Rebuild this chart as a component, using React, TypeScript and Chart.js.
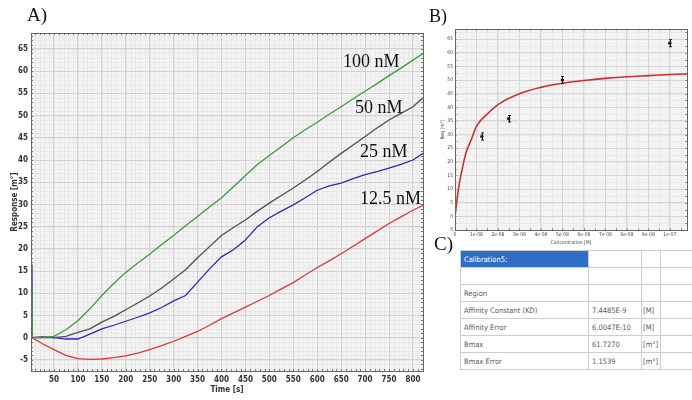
import React, { useEffect, useRef } from 'react';
import { Chart, registerables } from 'chart.js';
Chart.register(...registerables);

// ---------- Panel A: sensorgrams ----------
const TIME_A = [3, 4, 5, 25, 50, 75, 100, 125, 150, 175, 200, 225, 250, 275, 300, 325, 350, 375, 400, 425, 450, 475, 500, 525, 550, 575, 600, 625, 650, 675, 700, 725, 750, 775, 800, 821];
const RESP_100 = [0, 12, 0, 0, 0.3, 1.8, 3.8, 6.5, 9.5, 12.2, 14.7, 16.8, 18.8, 21, 23, 25.2, 27.3, 29.4, 31.5, 34, 36.5, 39, 41, 43, 45, 46.8, 48.5, 50.3, 52, 53.8, 55.5, 57.2, 59, 60.7, 62.5, 64];
const RESP_50 = [0, 0, 0, 0.2, 0, 0.3, 1.2, 2, 3.5, 4.8, 6.3, 7.8, 9.4, 11.2, 13.2, 15.3, 18, 20.5, 23, 24.8, 26.5, 28.5, 30.3, 32, 33.7, 35.5, 37.4, 39.5, 41.5, 43.4, 45.3, 47.2, 49, 50.5, 52, 54];
const RESP_25 = [0, 16.5, 0, 0.1, 0, -0.3, -0.3, 0.8, 2, 2.8, 3.7, 4.6, 5.6, 6.8, 8.3, 9.5, 12.5, 15.5, 18.2, 19.8, 22, 25, 27, 28.5, 29.9, 31.5, 33.2, 34.2, 34.8, 35.8, 36.7, 37.4, 38.2, 39, 40, 41.5];
const RESP_12 = [0, 0, -0.05, -1.3, -2.7, -4, -4.7, -4.9, -4.8, -4.5, -4.1, -3.5, -2.7, -1.8, -0.8, 0.3, 1.4, 2.8, 4.3, 5.6, 6.9, 8.2, 9.5, 11, 12.4, 14.1, 15.8, 17.3, 18.9, 20.6, 22.3, 24, 25.7, 27.2, 28.7, 29.8];
const X_TICKS_A = [50, 100, 150, 200, 250, 300, 350, 400, 450, 500, 550, 600, 650, 700, 750, 800];
const Y_TICKS_A = [-5, 0, 5, 10, 15, 20, 25, 30, 35, 40, 45, 50, 55, 60, 65];
const SERIES_LABELS = ['100 nM', '50 nM', '25 nM', '12.5 nM'];

// ---------- Panel B: affinity fit ----------
const CONC_FIT = [0, 0.1e-8, 0.2e-8, 0.3e-8, 0.5e-8, 0.75e-8, 1e-8, 1.5e-8, 2e-8, 3e-8, 4e-8, 5e-8, 6e-8, 7e-8, 8e-8, 9e-8, 1e-7, 1.1e-7];
const REQ_FIT = [0, 6.5, 12, 16, 23, 28, 33, 37.5, 41, 45, 47.3, 48.8, 49.8, 50.6, 51.2, 51.6, 52, 52.3];
const CONC_PTS = [1.25e-8, 2.5e-8, 5e-8, 1e-7];
const REQ_PTS = [29.3, 35.8, 50, 63.5];
const REQ_ERR = [1.3, 1.2, 1.3, 1.3];
const X_TICKS_B = [0, 1e-8, 2e-8, 3e-8, 4e-8, 5e-8, 6e-8, 7e-8, 8e-8, 9e-8, 1e-7];
const X_TICK_LABELS_B = ['0', '1e-08', '2e-08', '3e-08', '4e-08', '5e-08', '6e-08', '7e-08', '8e-08', '9e-08', '1e-07'];
const Y_TICKS_B = [-5, 0, 5, 10, 15, 20, 25, 30, 35, 40, 45, 50, 55, 60, 65];

// ---------- Panel C: table ----------
const TABLE_LABELS = ['Calibration5:', '', 'Region', 'Affinity Constant (KD)', 'Affinity Error', 'Bmax', 'Bmax Error'];
const TABLE_VALUES = ['', '', '', '7.4485E-9', '6.0047E-10', '61.7270', '1.1539'];
const TABLE_UNITS = ['', '', '', '[M]', '[M]', '[m°]', '[m°]'];

const NARROW = '"Liberation Sans Narrow", "DejaVu Sans Condensed", Arial, sans-serif';
const SERIF = '"Liberation Serif", "DejaVu Serif", serif';

const framePlugin = {
  id: 'frame',
  beforeDraw(chart: any, _args: any, opts: any) {
    const { ctx, chartArea: a, scales } = chart;
    const x = scales.x, y = scales.y;
    ctx.save();
    ctx.fillStyle = opts.bg;
    ctx.fillRect(a.left, a.top, a.right - a.left, a.bottom - a.top);
    ctx.strokeStyle = opts.minorColor;
    ctx.lineWidth = 1;
    ctx.beginPath();
    for (let k = Math.ceil(x.min / opts.xMinor); k * opts.xMinor <= x.max; k++) {
      const px = Math.round(x.getPixelForValue(k * opts.xMinor)) + 0.5;
      ctx.moveTo(px, a.top); ctx.lineTo(px, a.bottom);
    }
    for (let k = Math.ceil(y.min / opts.yMinor); k * opts.yMinor <= y.max; k++) {
      const py = Math.round(y.getPixelForValue(k * opts.yMinor)) + 0.5;
      ctx.moveTo(a.left, py); ctx.lineTo(a.right, py);
    }
    ctx.stroke();
    ctx.restore();
  },
  afterDraw(chart: any, _args: any, opts: any) {
    const { ctx, chartArea: a, scales } = chart;
    const x = scales.x, y = scales.y;
    ctx.save();
    ctx.strokeStyle = opts.tickColor;
    ctx.lineWidth = 1;
    ctx.beginPath();
    for (let k = Math.ceil(x.min / opts.xMinor); k * opts.xMinor <= x.max; k++) {
      const px = Math.round(x.getPixelForValue(k * opts.xMinor)) + 0.5;
      ctx.moveTo(px, a.top); ctx.lineTo(px, a.top + opts.tickLen);
      ctx.moveTo(px, a.bottom); ctx.lineTo(px, a.bottom - opts.tickLen);
    }
    for (let k = Math.ceil(y.min / opts.yMinor); k * opts.yMinor <= y.max; k++) {
      const py = Math.round(y.getPixelForValue(k * opts.yMinor)) + 0.5;
      ctx.moveTo(a.left, py); ctx.lineTo(a.left + opts.tickLen, py);
      ctx.moveTo(a.right, py); ctx.lineTo(a.right - opts.tickLen, py);
    }
    ctx.stroke();
    ctx.strokeStyle = opts.frameColor;
    ctx.strokeRect(Math.round(a.left) + 0.5, Math.round(a.top) + 0.5, Math.round(a.right - a.left), Math.round(a.bottom - a.top));
    ctx.restore();
  },
};

const errorBarPlugin = {
  id: 'errbars',
  afterDatasetsDraw(chart: any) {
    const { ctx, scales } = chart;
    ctx.save();
    ctx.strokeStyle = '#1a1a2a';
    ctx.lineWidth = 1;
    CONC_PTS.forEach((c, i) => {
      const px = Math.round(scales.x.getPixelForValue(c)) + 0.5;
      const top = scales.y.getPixelForValue(REQ_PTS[i] + REQ_ERR[i]);
      const bot = scales.y.getPixelForValue(REQ_PTS[i] - REQ_ERR[i]);
      ctx.beginPath();
      ctx.moveTo(px, top); ctx.lineTo(px, bot);
      ctx.moveTo(px - 1.5, top); ctx.lineTo(px + 1.5, top);
      ctx.moveTo(px - 1.5, bot); ctx.lineTo(px + 1.5, bot);
      ctx.stroke();
    });
    ctx.restore();
  },
};

function toXY(xs: number[], ys: number[]) {
  return xs.map((x, i) => ({ x, y: ys[i] }));
}

export default function App() {
  const refA = useRef<HTMLCanvasElement>(null);
  const refB = useRef<HTMLCanvasElement>(null);

  useEffect(() => {
    const tickFontA = { family: NARROW, size: 8, weight: 'bold' as const };
    const lineDs = (label: string, ys: number[], color: string) => ({
      label,
      data: toXY(TIME_A, ys),
      borderColor: color,
      backgroundColor: color,
      borderWidth: 1.3,
      pointRadius: 0,
      tension: 0,
    });
    const chartA = new Chart(refA.current!, {
      type: 'line',
      data: {
        datasets: [
          lineDs(SERIES_LABELS[3], RESP_12, '#d63a3a'),
          lineDs(SERIES_LABELS[0], RESP_100, '#3c9b3c'),
          lineDs(SERIES_LABELS[1], RESP_50, '#4f4f4f'),
          lineDs(SERIES_LABELS[2], RESP_25, '#2b2bb5'),
        ],
      },
      options: {
        animation: false,
        responsive: false,
        layout: { padding: { left: 10, top: 33, right: 9, bottom: 0 } },
        plugins: {
          legend: { display: false },
          tooltip: { enabled: false },
          frame: { bg: '#f3f3f3', minorColor: '#e9e9e9', xMinor: 10, yMinor: 1, tickLen: 2, tickColor: '#777', frameColor: '#666' },
        } as any,
        scales: {
          x: {
            type: 'linear',
            min: 2,
            max: 821,
            afterBuildTicks: (s: any) => { s.ticks = X_TICKS_A.map((v) => ({ value: v })); },
            afterFit: (s: any) => { s.height = 29; },
            grid: { color: '#d2d2d2', drawTicks: false },
            border: { display: false },
            ticks: { font: tickFontA, color: '#333', padding: 4, autoSkip: false, maxRotation: 0 },
            title: { display: true, text: 'Time [s]', font: tickFontA, color: '#333', padding: { top: 0, bottom: 5 } },
          },
          y: {
            type: 'linear',
            min: -7.5,
            max: 68.6,
            afterBuildTicks: (s: any) => { s.ticks = Y_TICKS_A.map((v) => ({ value: v })); },
            afterFit: (s: any) => { s.width = 21; },
            grid: { color: '#d2d2d2', drawTicks: false },
            border: { display: false },
            ticks: { font: tickFontA, color: '#333', padding: 3, autoSkip: false },
            title: { display: true, text: 'Response [m°]', font: tickFontA, color: '#333', padding: { top: 0, bottom: 0 } },
          },
        },
      },
      plugins: [framePlugin],
    } as any);

    const tickFontB = { family: NARROW, size: 5 };
    const chartB = new Chart(refB.current!, {
      type: 'line',
      data: {
        datasets: [
          {
            label: 'fit',
            data: toXY(CONC_FIT, REQ_FIT),
            borderColor: '#c83232',
            borderWidth: 1.6,
            pointRadius: 0,
            cubicInterpolationMode: 'monotone',
          },
          {
            label: 'Req',
            data: toXY(CONC_PTS, REQ_PTS),
            showLine: false,
            pointRadius: 1.3,
            pointBackgroundColor: '#1a1a2a',
            pointBorderColor: '#1a1a2a',
          },
        ],
      },
      options: {
        animation: false,
        responsive: false,
        layout: { padding: { left: 8, top: 29, right: 0, bottom: 0 } },
        plugins: {
          legend: { display: false },
          tooltip: { enabled: false },
          frame: { bg: '#f3f3f3', minorColor: '#e9e9e9', xMinor: 0.5e-8, yMinor: 2.5, tickLen: 1.5, tickColor: '#777', frameColor: '#666' },
        } as any,
        scales: {
          x: {
            type: 'linear',
            min: 0,
            max: 1.08e-7,
            afterBuildTicks: (s: any) => { s.ticks = X_TICKS_B.map((v) => ({ value: v })); },
            afterFit: (s: any) => { s.height = 20; },
            grid: { color: '#d6d6d6', drawTicks: false },
            border: { display: false },
            ticks: {
              font: tickFontB, color: '#444', padding: 2, autoSkip: false, maxRotation: 0,
              callback: (_v: any, i: number) => X_TICK_LABELS_B[i],
            },
            title: { display: true, text: 'Concentration [M]', font: tickFontB, color: '#444', padding: { top: 0, bottom: 4 } },
          },
          y: {
            type: 'linear',
            min: -5,
            max: 68.7,
            afterBuildTicks: (s: any) => { s.ticks = Y_TICKS_B.map((v) => ({ value: v })); },
            afterFit: (s: any) => { s.width = 15; },
            grid: { color: '#d6d6d6', drawTicks: false },
            border: { display: false },
            ticks: { font: tickFontB, color: '#444', padding: 2, autoSkip: false },
            title: { display: true, text: 'Req [m°]', font: tickFontB, color: '#444', padding: { top: 0, bottom: 0 } },
          },
        },
      },
      plugins: [framePlugin, errorBarPlugin],
    } as any);

    return () => {
      chartA.destroy();
      chartB.destroy();
    };
  }, []);

  const labelStyle = (left: number, top: number, size: number): React.CSSProperties => ({
    position: 'absolute', left, top, fontFamily: SERIF, fontSize: size, lineHeight: 1, color: '#111', whiteSpace: 'nowrap',
  });
  const cellBorder = '1px solid #cdcdcd';
  const colWidths = [128, 53, 19, 60];

  return (
    <div style={{ position: 'absolute', left: 0, top: 0, width: 692, height: 400, background: '#fff', overflow: 'hidden' }}>
      <canvas ref={refA} width={432} height={400} style={{ position: 'absolute', left: 0, top: 0 }} />
      <canvas ref={refB} width={260} height={250} style={{ position: 'absolute', left: 432, top: 0 }} />

      <div style={labelStyle(27, 5, 19)}>A)</div>
      <div style={labelStyle(429, 7, 18)}>B)</div>
      <div style={labelStyle(434, 234, 19)}>C)</div>

      <div style={labelStyle(343, 52, 18)}>{SERIES_LABELS[0]}</div>
      <div style={labelStyle(355, 98, 18)}>{SERIES_LABELS[1]}</div>
      <div style={labelStyle(360, 142, 18)}>{SERIES_LABELS[2]}</div>
      <div style={labelStyle(360, 189, 18)}>{SERIES_LABELS[3]}</div>

      <table
        style={{
          position: 'absolute', left: 460, top: 250, borderCollapse: 'collapse', tableLayout: 'fixed',
          width: colWidths.reduce((s, w) => s + w, 0), fontFamily: NARROW, fontSize: 7.5, color: '#5a5a5a',
        }}
      >
        <colgroup>
          {colWidths.map((w, i) => <col key={i} style={{ width: w }} />)}
        </colgroup>
        <tbody>
          {TABLE_LABELS.map((lab, i) => (
            <tr key={i} style={{ height: 17 }}>
              <td style={{
                border: cellBorder, padding: '0 0 0 3px', whiteSpace: 'nowrap', overflow: 'hidden',
                background: i === 0 ? '#2f6ec6' : undefined, color: i === 0 ? '#fff' : undefined,
              }}>{lab}</td>
              <td style={{ border: cellBorder, padding: '0 0 0 3px', whiteSpace: 'nowrap', overflow: 'hidden' }}>{TABLE_VALUES[i]}</td>
              <td style={{ border: cellBorder, padding: '0 0 0 1px', whiteSpace: 'nowrap', overflow: 'hidden' }}>{TABLE_UNITS[i]}</td>
              <td style={{ border: cellBorder, padding: 0 }}></td>
            </tr>
          ))}
        </tbody>
      </table>
    </div>
  );
}
